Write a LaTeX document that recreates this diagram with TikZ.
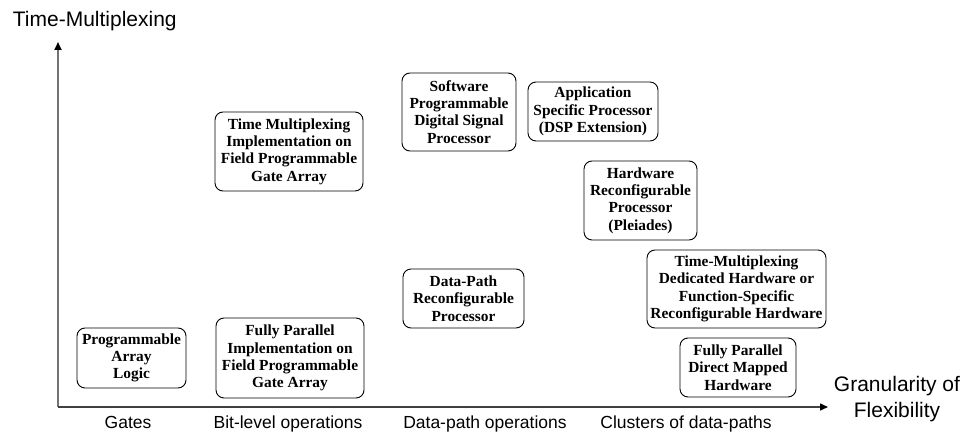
\documentclass[tikz,border=0pt]{standalone}
\usepackage{fontspec}
\setmainfont{Liberation Serif}
\newfontfamily\axisfont{Liberation Sans}
\usetikzlibrary{arrows.meta}

\begin{document}
\begin{tikzpicture}[x=1pt,y=-1pt,
  blk/.style={draw=black, line width=0.9pt, rounded corners=8pt, align=center,
    inner sep=0pt, font=\fontsize{15.4}{17.3}\selectfont\bfseries},
  axisline/.style={-{Triangle[length=8pt,width=7pt,color=black,fill=black]}},
  axlabel/.style={font=\fontsize{21}{26}\selectfont\axisfont, inner sep=0pt},
  catlabel/.style={font=\fontsize{17.5}{20}\selectfont\axisfont, inner sep=0pt, anchor=base}]
\useasboundingbox (0,0) rectangle (969,433);

% axes
\coordinate (o) at (58,407);
\coordinate (ytip) at (58,42);
\coordinate (xtip) at (828,407);
\draw[axisline, line width=1.8pt, black!55] (o) -- (ytip);
\draw[axisline, line width=1.5pt, black!75] (o) -- (xtip);

% axis titles
\node[axlabel, anchor=base west] (ylab) at (12.7,26.7) {Time-Multiplexing};
\node[axlabel, align=center] (xlab) at (897,399.5) {Granularity of\\Flexibility};

% categories along the horizontal axis
\node[catlabel] (cgates) at (128,428.5) {Gates};
\node[catlabel] (cbit) at (288,428.5) {Bit-level operations};
\node[catlabel] (cdp) at (485,428.5) {Data-path operations};
\node[catlabel] (ccl) at (686,428.5) {Clusters of data-paths};

% architecture boxes
\node[blk, minimum width=109pt, minimum height=60pt] (pal) at (131.5,358) {Programmable\\Array\\Logic};
\node[blk, minimum width=148pt, minimum height=80pt] (fpfpga) at (290,358) {Fully Parallel\\Implementation on\\Field Programmable\\Gate Array};
\node[blk, minimum width=148pt, minimum height=79pt] (tmfpga) at (289,151.5) {Time Multiplexing\\Implementation on\\Field Programmable\\Gate Array};
\node[blk, minimum width=114pt, minimum height=78pt] (dsp) at (459,112) {Software\\Programmable\\Digital Signal\\Processor};
\node[blk, minimum width=130pt, minimum height=59pt] (asp) at (593,111.5) {Application\\Specific Processor\\(DSP Extension)};
\node[blk, minimum width=113pt, minimum height=79pt] (hrp) at (640.5,200.5) {Hardware\\Reconfigurable\\Processor\\(Pleiades)};
\node[blk, minimum width=121pt, minimum height=59pt] (dprp) at (463.5,298.5) {Data-Path\\Reconfigurable\\Processor};
\node[blk, minimum width=179pt, minimum height=78pt] (tmdh) at (736.5,289) {Time-Multiplexing\\Dedicated Hardware or\\Function-Specific\\Reconfigurable Hardware};
\node[blk, minimum width=116pt, minimum height=59pt] (fpdm) at (738,367.5) {Fully Parallel\\Direct Mapped\\Hardware};
\end{tikzpicture}
\end{document}
